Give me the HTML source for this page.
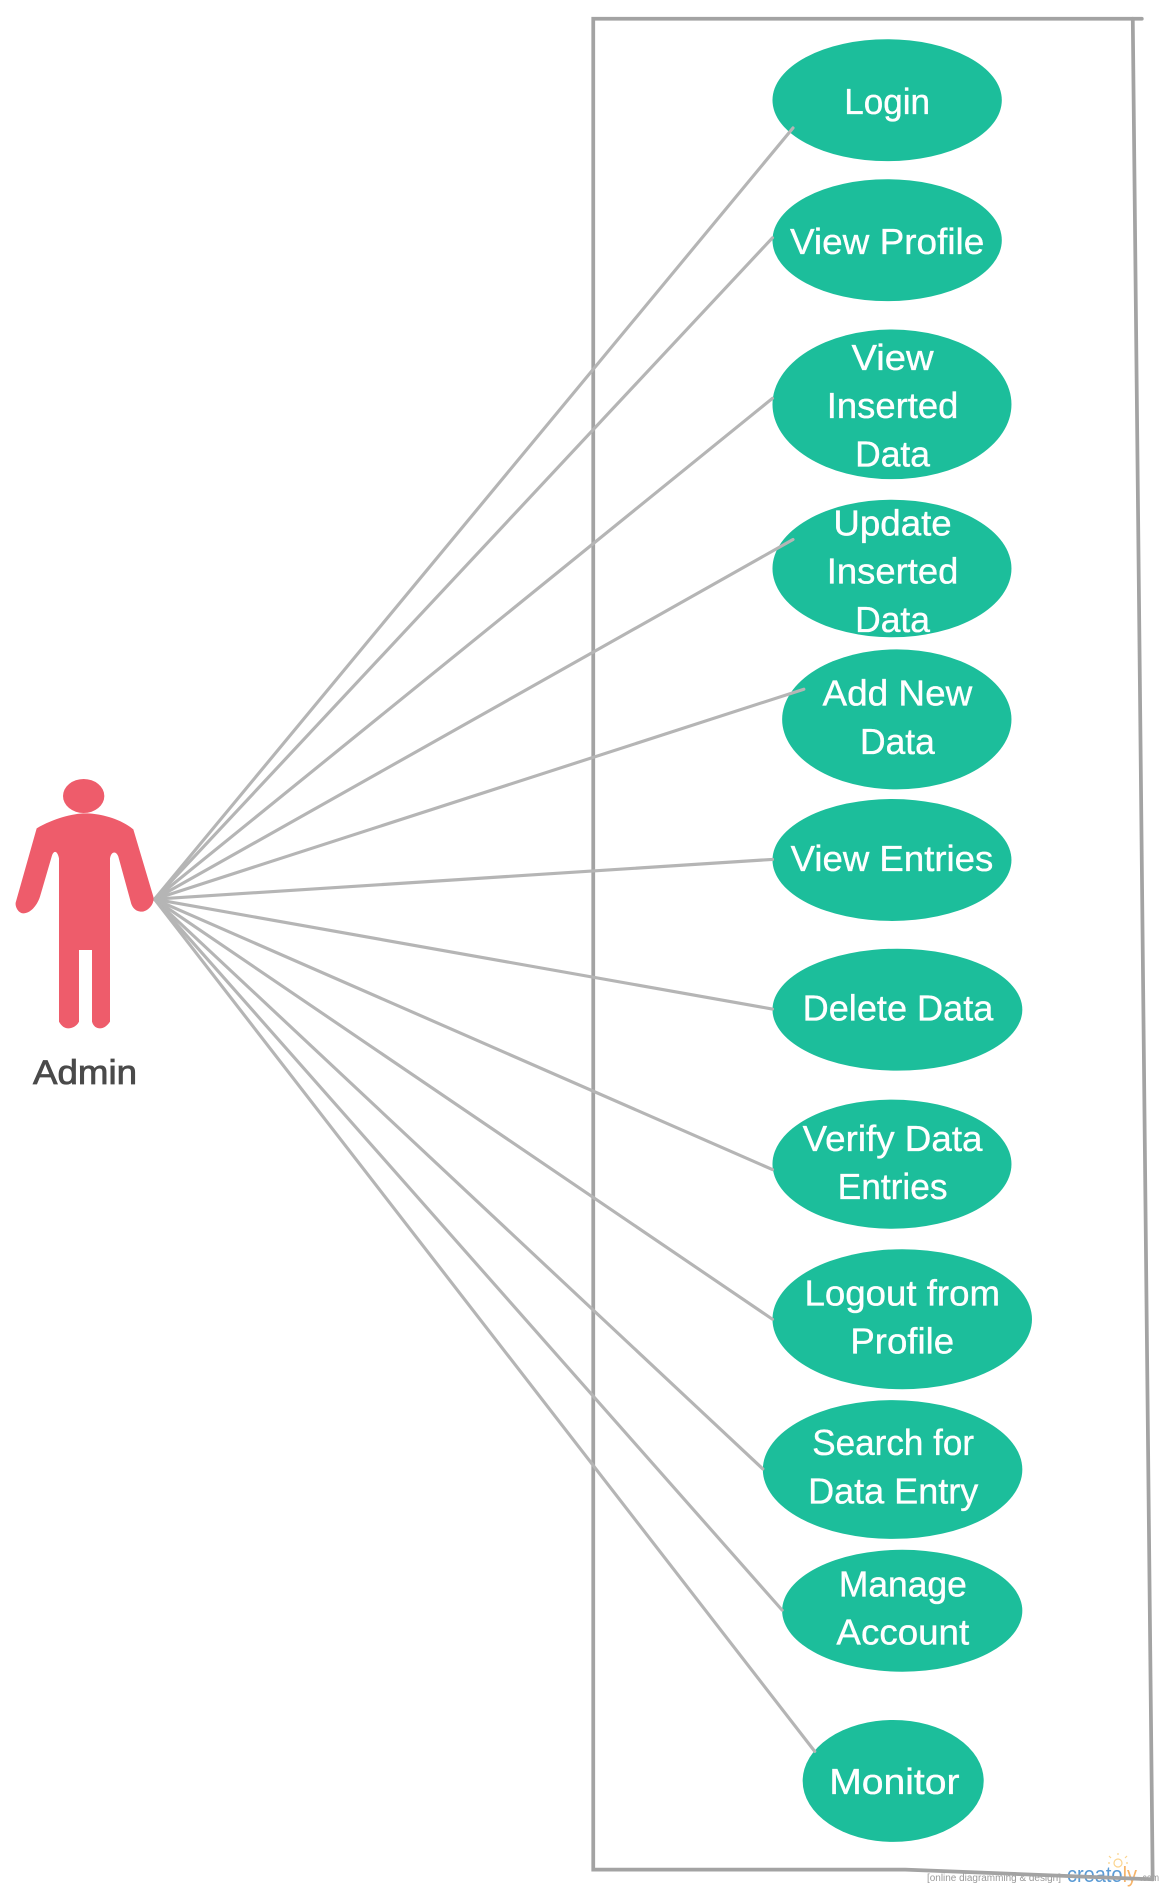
<!DOCTYPE html>
<html>
<head>
<meta charset="utf-8">
<title>Admin use case diagram</title>
<style>
html,body{margin:0;padding:0;background:#fff;width:1165px;height:1892px;overflow:hidden}
svg{display:block}
.uc{fill:#1cbe9b}
.ut{fill:#fff;stroke:#fff;stroke-width:.3;font-family:"Liberation Sans",sans-serif;font-size:30px;text-anchor:middle}
.ln{stroke:#b5b5b5;stroke-width:2.6;stroke-linecap:round;fill:none}
.bx{stroke:#a3a3a3;stroke-width:3.1;stroke-linecap:round;fill:none}
</style>
</head>
<body>
<svg xmlns="http://www.w3.org/2000/svg" width="1165" height="1892" viewBox="0 0 1165 1892">
<rect width="1165" height="1892" fill="#fff"/>
<g>
  <text x="927" y="1881" textLength="134" lengthAdjust="spacingAndGlyphs" fill="#9a9a9a" font-family="'Liberation Sans',sans-serif" font-size="10">[online diagramming &amp; design]</text>
  <text x="1067" y="1882" font-family="'Liberation Sans',sans-serif" font-size="22" textLength="70" lengthAdjust="spacingAndGlyphs"><tspan fill="#5b9bd5">creato</tspan><tspan fill="#f7b469">ly</tspan></text>
  <text x="1140" y="1881" textLength="19" lengthAdjust="spacingAndGlyphs" fill="#9a9a9a" font-family="'Liberation Sans',sans-serif" font-size="10">.com</text>
  <g fill="none" stroke="#fbd48e" stroke-width="1.2">
    <circle cx="1118" cy="1863" r="4"/>
    <path d="M1118 1855V1853M1111 1858L1109 1856M1125 1858L1127 1856M1110 1863H1108M1126 1863H1128"/>
  </g>
</g>
<g transform="scale(1.207)">
  <g>
    <path class="bx" d="M946 15.500H491.500V1549H750L955 1557"/>
    <path class="bx" d="M938.500 15.500L955 1557"/>
  </g>
  <g>
    <ellipse class="uc" cx="735" cy="83" rx="95" ry="50.500"/>
    <ellipse class="uc" cx="735" cy="199" rx="95" ry="50.500"/>
    <ellipse class="uc" cx="739" cy="335" rx="99" ry="62"/>
    <ellipse class="uc" cx="739" cy="471" rx="99" ry="57"/>
    <ellipse class="uc" cx="743" cy="596" rx="95" ry="58"/>
    <ellipse class="uc" cx="739" cy="712.500" rx="99" ry="50.500"/>
    <ellipse class="uc" cx="743.500" cy="836.500" rx="103.500" ry="50.500"/>
    <ellipse class="uc" cx="739" cy="964.500" rx="99" ry="53.500"/>
    <ellipse class="uc" cx="747.500" cy="1093" rx="107.500" ry="58"/>
    <ellipse class="uc" cx="739.500" cy="1217.500" rx="107.500" ry="57.500"/>
    <ellipse class="uc" cx="747.500" cy="1334.500" rx="99.500" ry="50.500"/>
    <ellipse class="uc" cx="740" cy="1475.500" rx="75" ry="50.500"/>
  </g>
  <g>
    <line class="ln" x1="128" y1="745" x2="657" y2="106"/>
    <line class="ln" x1="128" y1="745" x2="640" y2="197"/>
    <line class="ln" x1="128" y1="745" x2="640" y2="330"/>
    <line class="ln" x1="128" y1="745" x2="657" y2="447"/>
    <line class="ln" x1="128" y1="745" x2="666" y2="571"/>
    <line class="ln" x1="128" y1="745" x2="640" y2="712"/>
    <line class="ln" x1="128" y1="745" x2="640" y2="836"/>
    <line class="ln" x1="128" y1="745" x2="640" y2="969"/>
    <line class="ln" x1="128" y1="745" x2="640" y2="1093"/>
    <line class="ln" x1="128" y1="745" x2="632" y2="1217"/>
    <line class="ln" x1="128" y1="745" x2="648" y2="1334"/>
    <line class="ln" x1="128" y1="745" x2="675" y2="1451"/>
  </g>
  <g>
    <text class="ut" x="735" y="94.500" textLength="71" lengthAdjust="spacingAndGlyphs">Login</text>
    <text class="ut" x="735" y="210.500" textLength="161" lengthAdjust="spacingAndGlyphs">View Profile</text>
    <text class="ut" x="739.500" y="306.500" textLength="68" lengthAdjust="spacingAndGlyphs">View</text>
    <text class="ut" x="739.500" y="346.500" textLength="109" lengthAdjust="spacingAndGlyphs">Inserted</text>
    <text class="ut" x="739.500" y="386.500" textLength="62" lengthAdjust="spacingAndGlyphs">Data</text>
    <text class="ut" x="739.500" y="443.500" textLength="98" lengthAdjust="spacingAndGlyphs">Update</text>
    <text class="ut" x="739.500" y="483.500" textLength="109" lengthAdjust="spacingAndGlyphs">Inserted</text>
    <text class="ut" x="739.500" y="523.500" textLength="62" lengthAdjust="spacingAndGlyphs">Data</text>
    <text class="ut" x="743.500" y="584.500" textLength="124" lengthAdjust="spacingAndGlyphs">Add New</text>
    <text class="ut" x="743.500" y="624.500" textLength="62" lengthAdjust="spacingAndGlyphs">Data</text>
    <text class="ut" x="739" y="721.500" textLength="168" lengthAdjust="spacingAndGlyphs">View Entries</text>
    <text class="ut" x="744" y="845.500" textLength="158" lengthAdjust="spacingAndGlyphs">Delete Data</text>
    <text class="ut" x="739.500" y="953.500" textLength="149" lengthAdjust="spacingAndGlyphs">Verify Data</text>
    <text class="ut" x="739.500" y="993.500" textLength="91" lengthAdjust="spacingAndGlyphs">Entries</text>
    <text class="ut" x="747.500" y="1081.500" textLength="162" lengthAdjust="spacingAndGlyphs">Logout from</text>
    <text class="ut" x="747.500" y="1121.500" textLength="86" lengthAdjust="spacingAndGlyphs">Profile</text>
    <text class="ut" x="740" y="1205.500" textLength="134" lengthAdjust="spacingAndGlyphs">Search for</text>
    <text class="ut" x="740" y="1245.500" textLength="141" lengthAdjust="spacingAndGlyphs">Data Entry</text>
    <text class="ut" x="748" y="1322.500" textLength="106" lengthAdjust="spacingAndGlyphs">Manage</text>
    <text class="ut" x="748" y="1362.500" textLength="110" lengthAdjust="spacingAndGlyphs">Account</text>
    <text class="ut" x="741" y="1486.500" textLength="108" lengthAdjust="spacingAndGlyphs">Monitor</text>
  </g>
</g>
<g transform="translate(0,750) scale(.33333)">
  <ellipse cx="251" cy="138" rx="62" ry="51" fill="#ee5c6b"/>
  <path fill="#ee5c6b" d="M110 235C160 205 220 190 255 190C300 190 360 205 400 238L460 440C465 465 440 485 425 485C405 485 395 470 392 455L355 320C350 305 335 300 330 325L330 815C320 830 310 835 300 835C290 835 280 830 276 815L276 600L237 600L237 815C230 830 215 835 205 835C195 835 185 830 177 815L177 325C172 300 160 300 155 320L120 440C110 470 90 490 70 490C55 490 45 470 47 458Z"/>
</g>
<text x="85" y="1084" text-anchor="middle" textLength="104" lengthAdjust="spacingAndGlyphs" fill="#4a4a4a" stroke="#4a4a4a" stroke-width=".8" font-family="'Liberation Sans',sans-serif" font-size="34">Admin</text>
</svg>
</body>
</html>
